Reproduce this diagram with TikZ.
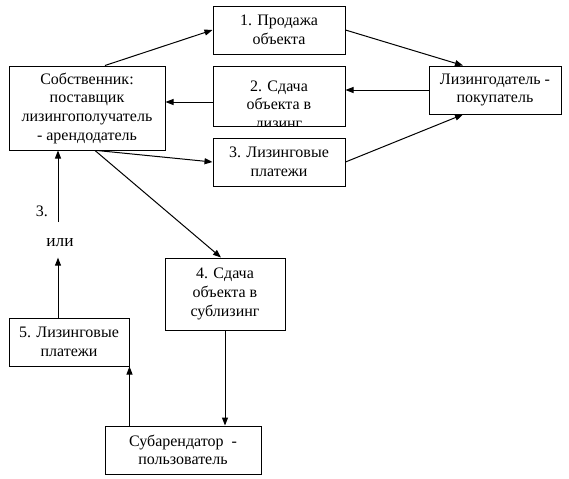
\documentclass[tikz,border=0pt]{standalone}
\usepackage{fontspec}
\setmainfont{Liberation Serif}
\newfontfamily\boxfont{Liberation Serif}
\usetikzlibrary{positioning,calc,arrows.meta}

\begin{document}
\begin{tikzpicture}[
        x=0.75pt, y=-0.75pt,
        >={Triangle[length=6pt,width=4.5pt]},
        box/.style={draw, line width=0.75pt, align=center, font=\boxfont\fontsize{12}{14}\selectfont, inner sep=2pt},
        wide/.style={box, minimum width=117pt},
        mid/.style={box, minimum width=99pt},
        narrow/.style={box, minimum width=90pt},
        note/.style={font=\boxfont\fontsize{12}{14}\selectfont, inner sep=1pt}
    ]
    \useasboundingbox (0,0) rectangle (569,479);

    % Nodes - Owner and lessor
    \node[wide, minimum height=63pt] (own) at (87,108) {Собственник:\\ поставщик\\ лизингополучатель\\ - арендодатель};
    \node[mid, minimum height=36pt] (les) at (495,90) {Лизингодатель -\\ покупатель};

    % Nodes - Operations
    \node[mid, minimum height=36pt] (b1) at (279,30) {1. Продажа\\ объекта};
    \node[mid, minimum height=45pt, path picture={
        \node[anchor=north, align=center, inner sep=0pt, font=\boxfont\fontsize{12}{14}\selectfont]
            at ([yshift=-6pt]path picture bounding box.north) {2. Сдача\\ объекта в\\ лизинг};
        }] (b2) at (279,96) {};
    \node[mid, minimum height=36pt] (b3) at (279,162) {3. Лизинговые\\ платежи};
    \node[narrow, minimum height=54pt] (b4) at (225,294) {4. Сдача\\ объекта в\\ сублизинг};
    \node[narrow, minimum height=36pt] (b5) at (69,342) {5. Лизинговые\\ платежи};

    % Nodes - Sublessee
    \node[wide, minimum height=36pt] (sub) at (183,450) {Субарендатор\ \ -\\ пользователь};

    % Texts
    \node[note] (n3) at (42,211) {3.};
    \node[note, font=\boxfont\fontsize{13}{14}\selectfont] (ili) at (60,243) {или};
    \coordinate (c3) at (58,222);
    \coordinate (c5) at ($(b5.north)+(-11,0)$);

    % Arrows
    \draw[->, line width=0.75pt] ($(own.north)+(18,0)$) -- (b1.west);
    \draw[->, line width=0.75pt] ($(b2.west)+(0,6)$) -- ($(own.east)+(0,-6)$);
    \draw[->, line width=0.75pt] ($(own.south)+(10,0)$) -- (b3.west);
    \draw[->, line width=0.75pt] ($(own.south)+(8,0)$) -- ($(b4.north)+(-4,0)$);
    \draw[->, line width=0.75pt] (b1.east) -- ($(les.north)+(-32,0)$);
    \draw[->, line width=0.75pt] (les.west) -- (les.west -| b2.east);
    \draw[->, line width=0.75pt] (b3.east) -- ($(les.south)+(-32,0)$);
    \draw[->, line width=0.75pt] (b4.south) -- (b4.south |- sub.north);
    \draw[->, line width=0.75pt] (b5.south east |- sub.north) -- (b5.south east);
    \draw[->, line width=0.75pt] (c5) -- ($(c5 |- ili.south)+(0,9)$);
    \draw[->, line width=0.75pt] (c3) -- (c3 |- own.south);

\end{tikzpicture}
\end{document}
